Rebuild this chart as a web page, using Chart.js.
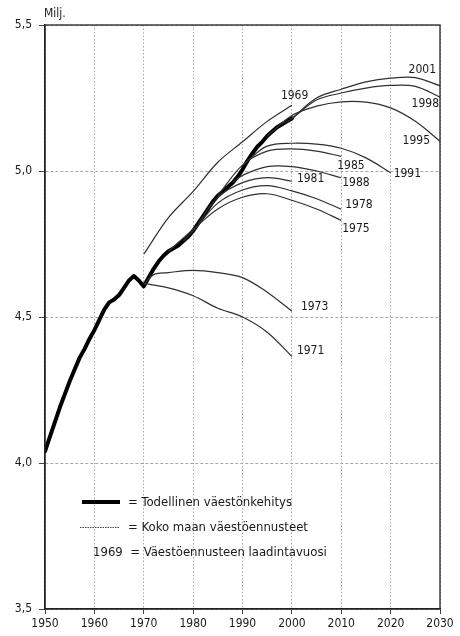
<!DOCTYPE html>
<html>
<head>
<meta charset="utf-8">
<script src="https://cdn.jsdelivr.net/npm/chart.js@4.4.1/dist/chart.umd.min.js"></script>
<style>
  html, body { margin: 0; padding: 0; background: #fff; }
  #wrap { width: 460px; height: 636px; }
</style>
</head>
<body>
<div id="wrap"><canvas id="chart" width="460" height="636"></canvas></div>
<script>
// actual population (million)
const actualYears = [1950, 1951, 1952, 1953, 1954, 1955, 1956, 1957, 1958, 1959, 1960, 1961, 1962, 1963, 1964, 1965, 1966, 1967, 1968, 1969, 1970,
  1971, 1972, 1973, 1974, 1975, 1976, 1977, 1978, 1979, 1980, 1981, 1982, 1983, 1984, 1985, 1986, 1987, 1988, 1989, 1990,
  1991, 1992, 1993, 1994, 1995, 1996, 1997, 1998, 1999, 2000];
const actualValues = [4.04, 4.09, 4.14, 4.19, 4.235, 4.28, 4.32, 4.36, 4.39, 4.425, 4.455, 4.49, 4.525, 4.55, 4.56, 4.575, 4.60, 4.625, 4.64, 4.625, 4.605,
  4.635, 4.665, 4.69, 4.71, 4.725, 4.735, 4.745, 4.76, 4.775, 4.795, 4.82, 4.845, 4.87, 4.895, 4.915, 4.93, 4.945, 4.96, 4.98, 5.005,
  5.035, 5.06, 5.083, 5.10, 5.12, 5.135, 5.15, 5.16, 5.17, 5.18];

// forecasts by year of making
const fc1969Years = [1970, 1975, 1980, 1985, 1990, 1995, 2000];
const fc1969 = [4.715, 4.84, 4.93, 5.03, 5.10, 5.17, 5.225];
const fc1971Years = [1970, 1975, 1980, 1985, 1990, 1995, 2000];
const fc1971 = [4.615, 4.60, 4.573, 4.53, 4.50, 4.448, 4.365];
const fc1973Years = [1970, 1972, 1975, 1980, 1985, 1990, 1995, 2000];
const fc1973 = [4.61, 4.645, 4.652, 4.66, 4.652, 4.635, 4.585, 4.52];
const fc1975Years = [1975, 1980, 1985, 1990, 1995, 2000, 2005, 2010];
const fc1975 = [4.725, 4.80, 4.87, 4.91, 4.922, 4.90, 4.87, 4.831];
const fc1978Years = [1978, 1980, 1985, 1990, 1995, 2000, 2005, 2010];
const fc1978 = [4.76, 4.795, 4.89, 4.935, 4.95, 4.932, 4.905, 4.869];
const fc1981Years = [1981, 1985, 1990, 1995, 2000];
const fc1981 = [4.82, 4.91, 4.96, 4.977, 4.965];
const fc1985Years = [1985, 1990, 1995, 2000, 2005, 2010];
const fc1985 = [4.915, 5.02, 5.068, 5.076, 5.068, 5.05];
const fc1988Years = [1988, 1990, 1995, 2000, 2005, 2010];
const fc1988 = [4.96, 4.985, 5.015, 5.015, 5.0, 4.977];
const fc1991Years = [1991, 1995, 2000, 2005, 2010, 2015, 2020];
const fc1991 = [5.035, 5.085, 5.095, 5.092, 5.078, 5.045, 4.994];
const fc1995Years = [1995, 2000, 2005, 2010, 2015, 2020, 2025, 2030];
const fc1995 = [5.12, 5.19, 5.222, 5.237, 5.236, 5.216, 5.17, 5.102];
const fc1998Years = [1998, 2000, 2005, 2010, 2015, 2020, 2025, 2030];
const fc1998 = [5.16, 5.18, 5.243, 5.267, 5.284, 5.293, 5.29, 5.253];
const fc2001Years = [2000, 2005, 2010, 2015, 2020, 2025, 2030];
const fc2001 = [5.18, 5.25, 5.28, 5.305, 5.318, 5.32, 5.292];

const forecastNames = ['1969', '1971', '1973', '1975', '1978', '1981', '1985', '1988', '1991', '1995', '1998', '2001'];
const forecastYears = [fc1969Years, fc1971Years, fc1973Years, fc1975Years, fc1978Years, fc1981Years, fc1985Years, fc1988Years, fc1991Years, fc1995Years, fc1998Years, fc2001Years];
const forecastValues = [fc1969, fc1971, fc1973, fc1975, fc1978, fc1981, fc1985, fc1988, fc1991, fc1995, fc1998, fc2001];

// label placement relative to each line's end point: [dx, dy, align]
const labelOffsets = [[-11, -9, 'left'], [5, -6, 'left'], [9, -4, 'left'], [1, 9, 'left'], [4, -4, 'left'], [5, -2, 'left'],
  [-4, 9, 'left'], [1, 5, 'left'], [3, 1, 'left'], [-10, 0, 'right'], [-1, 7, 'right'], [-4, -16, 'right']];

const xTicks = [1950, 1960, 1970, 1980, 1990, 2000, 2010, 2020, 2030];
const yTicks = [3.5, 4.0, 4.5, 5.0, 5.5];

const FONT = '"Liberation Sans Narrow", "DejaVu Sans Condensed", "Liberation Sans", sans-serif';

const toPoints = (xs, ys) => xs.map((x, i) => ({ x: x, y: ys[i] }));

const datasets = forecastNames.map((name, i) => ({
  label: name,
  data: toPoints(forecastYears[i], forecastValues[i]),
  borderColor: '#303030',
  borderWidth: 1.2,
  pointRadius: 0,
  tension: 0.35,
  fill: false
}));
datasets.push({
  label: 'actual',
  data: toPoints(actualYears, actualValues),
  borderColor: '#000',
  borderWidth: 4,
  pointRadius: 0,
  tension: 0,
  borderJoinStyle: 'round',
  borderCapStyle: 'round',
  fill: false
});

const framePlugin = {
  id: 'frame',
  afterDraw(chart) {
    const { ctx, chartArea: a } = chart;
    ctx.save();
    ctx.strokeStyle = '#222';
    ctx.lineWidth = 1.3;
    ctx.strokeRect(a.left, a.top, a.right - a.left, a.bottom - a.top);

    // unit
    ctx.fillStyle = '#1a1a1a';
    ctx.font = '12px ' + FONT;
    ctx.textAlign = 'left';
    ctx.textBaseline = 'middle';
    ctx.fillText('Milj.', a.left - 1, a.top - 11);

    // line labels
    const xs = chart.scales.x, ys = chart.scales.y;
    forecastNames.forEach((name, i) => {
      const yrs = forecastYears[i], vals = forecastValues[i];
      const px = xs.getPixelForValue(yrs[yrs.length - 1]);
      const py = ys.getPixelForValue(vals[vals.length - 1]);
      const o = labelOffsets[i];
      ctx.textAlign = o[2];
      ctx.fillText(name, px + o[0], py + o[1]);
    });

    // legend
    const lx = a.left + 37, ly = a.top + 477;
    ctx.lineCap = 'butt';
    ctx.strokeStyle = '#000';
    ctx.lineWidth = 4;
    ctx.beginPath(); ctx.moveTo(lx, ly); ctx.lineTo(lx + 38, ly); ctx.stroke();
    ctx.strokeStyle = '#444';
    ctx.lineWidth = 1;
    ctx.setLineDash([1.5, 1]);
    ctx.beginPath(); ctx.moveTo(lx - 2, ly + 25.5); ctx.lineTo(lx + 38, ly + 25.5); ctx.stroke();
    ctx.setLineDash([]);
    ctx.font = '13px ' + FONT;
    ctx.textAlign = 'left';
    ctx.fillText('= Todellinen väestönkehitys', lx + 46, ly + 1);
    ctx.fillText('= Koko maan väestöennusteet', lx + 46, ly + 26);
    ctx.fillText('1969  = Väestöennusteen laadintavuosi', lx + 11, ly + 51);
    ctx.restore();
  }
};

new Chart(document.getElementById('chart'), {
  type: 'line',
  data: { datasets: datasets },
  plugins: [framePlugin],
  options: {
    responsive: false,
    animation: false,
    layout: { padding: { top: 25, right: 20, left: 0, bottom: 0 } },
    plugins: { legend: { display: false }, tooltip: { enabled: false } },
    scales: {
      x: {
        type: 'linear',
        min: 1950,
        max: 2030,
        afterBuildTicks: (s) => { s.ticks = xTicks.map(v => ({ value: v })); },
        afterFit: (s) => { s.height = 27; },
        ticks: {
          callback: (v) => String(v),
          color: '#1a1a1a',
          padding: 3,
          maxRotation: 0,
          font: { family: FONT, size: 12 }
        },
        grid: { color: '#a8a8a8', lineWidth: 1, tickLength: 5, tickColor: '#444' },
        border: { display: true, color: '#222', width: 1.3, dash: [1.5, 2] }
      },
      y: {
        type: 'linear',
        min: 3.5,
        max: 5.5,
        afterBuildTicks: (s) => { s.ticks = yTicks.map(v => ({ value: v })); },
        afterFit: (s) => { s.width = 45; },
        ticks: {
          callback: (v) => v.toFixed(1).replace('.', ','),
          color: '#1a1a1a',
          padding: 7,
          font: { family: FONT, size: 12 }
        },
        grid: { color: '#a8a8a8', lineWidth: 1, tickLength: 6, tickColor: '#444' },
        border: { display: true, color: '#222', width: 1.3, dash: [3, 2] }
      }
    }
  }
});
</script>
</body>
</html>
